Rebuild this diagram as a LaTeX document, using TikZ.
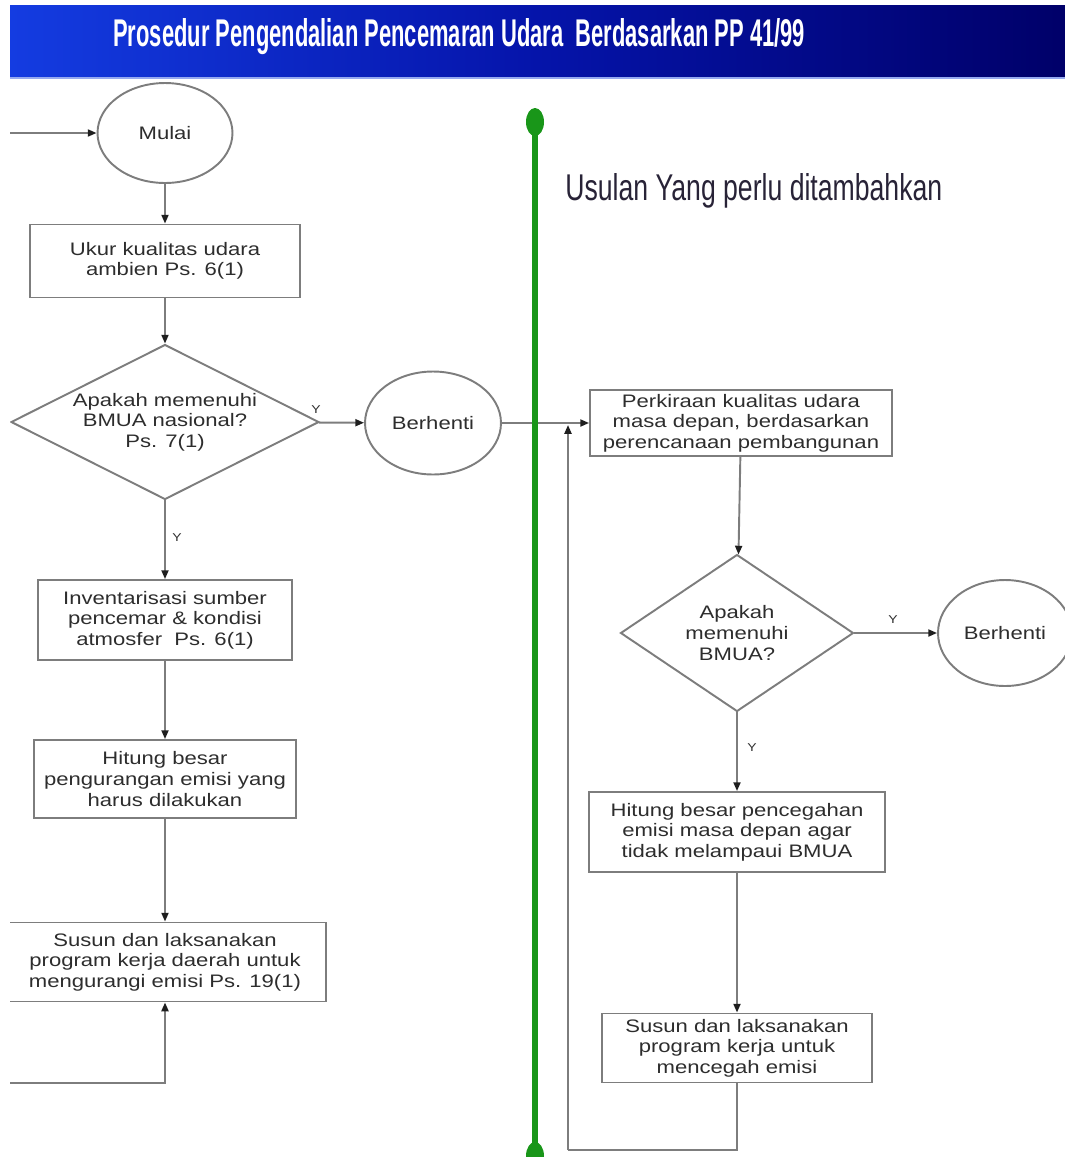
\documentclass[tikz,border=0pt]{standalone}
\usepackage{fontspec}
\setmainfont{Liberation Sans}
\newfontfamily\flowfont[FakeStretch=1.22]{Liberation Sans}
\newfontfamily\headfont{Liberation Sans}
\usepackage{graphicx}
\usetikzlibrary{arrows.meta,shapes.geometric}
\usepackage{xcolor}
\definecolor{flowline}{RGB}{125,125,125}
\definecolor{flowtext}{RGB}{45,45,45}
\definecolor{tipcol}{RGB}{30,30,30}
\definecolor{greenbar}{RGB}{25,150,25}
\definecolor{bannerL}{RGB}{20,60,225}
\definecolor{bannerM}{RGB}{5,20,170}
\definecolor{bannerR}{RGB}{0,0,105}
\definecolor{banneredge}{RGB}{150,170,240}
\definecolor{usultext}{RGB}{40,35,55}

\begin{document}
\begin{tikzpicture}[
  x=0.02cm, y=-0.02cm,
  font=\flowfont\fontsize{10.3}{11.7}\selectfont,
  procbox/.style={draw=flowline, line width=1.1pt, align=center, inner sep=0pt, text=flowtext},
  termnode/.style={ellipse, draw=flowline, line width=1.1pt, inner sep=0pt, text=flowtext},
  decnode/.style={diamond, draw=flowline, line width=1.1pt, inner sep=0pt, align=center, text=flowtext},
  ytag/.style={inner sep=0pt, text=flowtext, font=\flowfont\fontsize{6.5}{7}\selectfont},
  greendot/.style={ellipse, fill=greenbar, inner sep=0pt, minimum width=0.36cm, minimum height=0.56cm},
  link/.style={draw=flowline, line width=1.1pt},
  flow/.style={link, -{Triangle[length=5pt,width=4pt,color=tipcol]}}
]
\useasboundingbox (0,0) rectangle (1065,1157);
\clip (10,0) rectangle (1065,1157);

%% ── Title banner ─────────────────────────────────────────────────────────────
\shade[left color=bannerL, right color=bannerR, middle color=bannerM] (10,5) rectangle (1065,78);
\draw[banneredge, line width=1pt] (10,78) -- (1065,78);
\node[anchor=base west, inner sep=0pt, text=white] (title) at (113,46)
  {\resizebox{13.84cm}{0.56cm}{\headfont\bfseries Prosedur Pengendalian Pencemaran Udara\ \ Berdasarkan PP 41/99}};

%% ── Current procedure (left) ─────────────────────────────────────────────────
\node[termnode, minimum width=2.7cm, minimum height=2cm] (mulai) at (165,133) {Mulai};
\node[procbox, minimum width=5.4cm, minimum height=1.46cm] (ukur) at (165,261)
  {Ukur kualitas udara\\ambien Ps. 6(1)};
\node[decnode, aspect=1.99, minimum width=6.16cm, minimum height=3.1cm] (cek1) at (165,422)
  {Apakah memenuhi\\BMUA nasional?\\Ps. 7(1)};
\node[termnode, minimum width=2.72cm, minimum height=2.06cm] (stop1) at (433,423) {Berhenti};
\node[procbox, minimum width=5.08cm, minimum height=1.6cm] (invent) at (165,620)
  {Inventarisasi sumber\\pencemar \& kondisi\\atmosfer\ \ Ps. 6(1)};
\node[procbox, minimum width=5.24cm, minimum height=1.56cm] (hitung1) at (165,779)
  {Hitung besar\\pengurangan emisi yang\\harus dilakukan};
\node[procbox, minimum width=6.44cm, minimum height=1.58cm] (susun1) at (165,962)
  {Susun dan laksanakan\\program kerja daerah untuk\\mengurangi emisi Ps. 19(1)};

\node[ytag] (yes1) at (316,410) {Y};
\node[ytag] (yes2) at (177,538) {Y};

\coordinate (inL)   at (10,133);
\coordinate (loopL) at (10,1083);

\draw[flow] (inL) -- (mulai);
\draw[flow] (mulai) -- (ukur);
\draw[flow] (ukur) -- (cek1);
\draw[flow] (cek1) -- (stop1);
\draw[flow] (cek1) -- (invent);
\draw[flow] (invent) -- (hitung1);
\draw[flow] (hitung1) -- (susun1);
\draw[flow] (loopL) -| (susun1);

%% ── Proposed additions (right) ───────────────────────────────────────────────
\node[anchor=base west, inner sep=0pt, text=usultext] (usulan) at (565,200)
  {\resizebox{7.54cm}{0.54cm}{\headfont Usulan Yang perlu ditambahkan}};

\node[procbox, minimum width=6.04cm, minimum height=1.32cm] (perkiraan) at (741,423)
  {Perkiraan kualitas udara\\masa depan, berdasarkan\\perencanaan pembangunan};
\node[decnode, aspect=1.48, minimum width=4.66cm, minimum height=3.14cm] (cek2) at (737,633)
  {Apakah\\memenuhi\\BMUA?};
\node[termnode, minimum width=2.68cm, minimum height=2.12cm] (stop2) at (1005,633) {Berhenti};
\node[procbox, minimum width=5.92cm, minimum height=1.6cm] (hitung2) at (737,832)
  {Hitung besar pencegahan\\emisi masa depan agar\\tidak melampaui BMUA};
\node[procbox, minimum width=5.4cm, minimum height=1.38cm] (susun2) at (737,1048)
  {Susun dan laksanakan\\program kerja untuk\\mencegah emisi};

\node[ytag] (yes3) at (893,620) {Y};
\node[ytag] (yes4) at (752,748) {Y};

\coordinate (loopR) at (568,1150);
\coordinate (join)  at (568,425);

\draw[flow] (stop1) -- (perkiraan);
\draw[flow] (perkiraan) -- (cek2);
\draw[flow] (cek2) -- (stop2);
\draw[flow] (cek2) -- (hitung2);
\draw[flow] (hitung2) -- (susun2);
\draw[link] (susun2) |- (loopR);
\draw[flow] (loopR) -- (join);

%% ── Divider ──────────────────────────────────────────────────────────────────
\node[greendot] (barTop) at (535,122) {};
\node[greendot] (barBot) at (535,1156) {};
\draw[greenbar, line width=3.2pt] (barTop.center) -- (barBot.center);

\end{tikzpicture}
\end{document}
